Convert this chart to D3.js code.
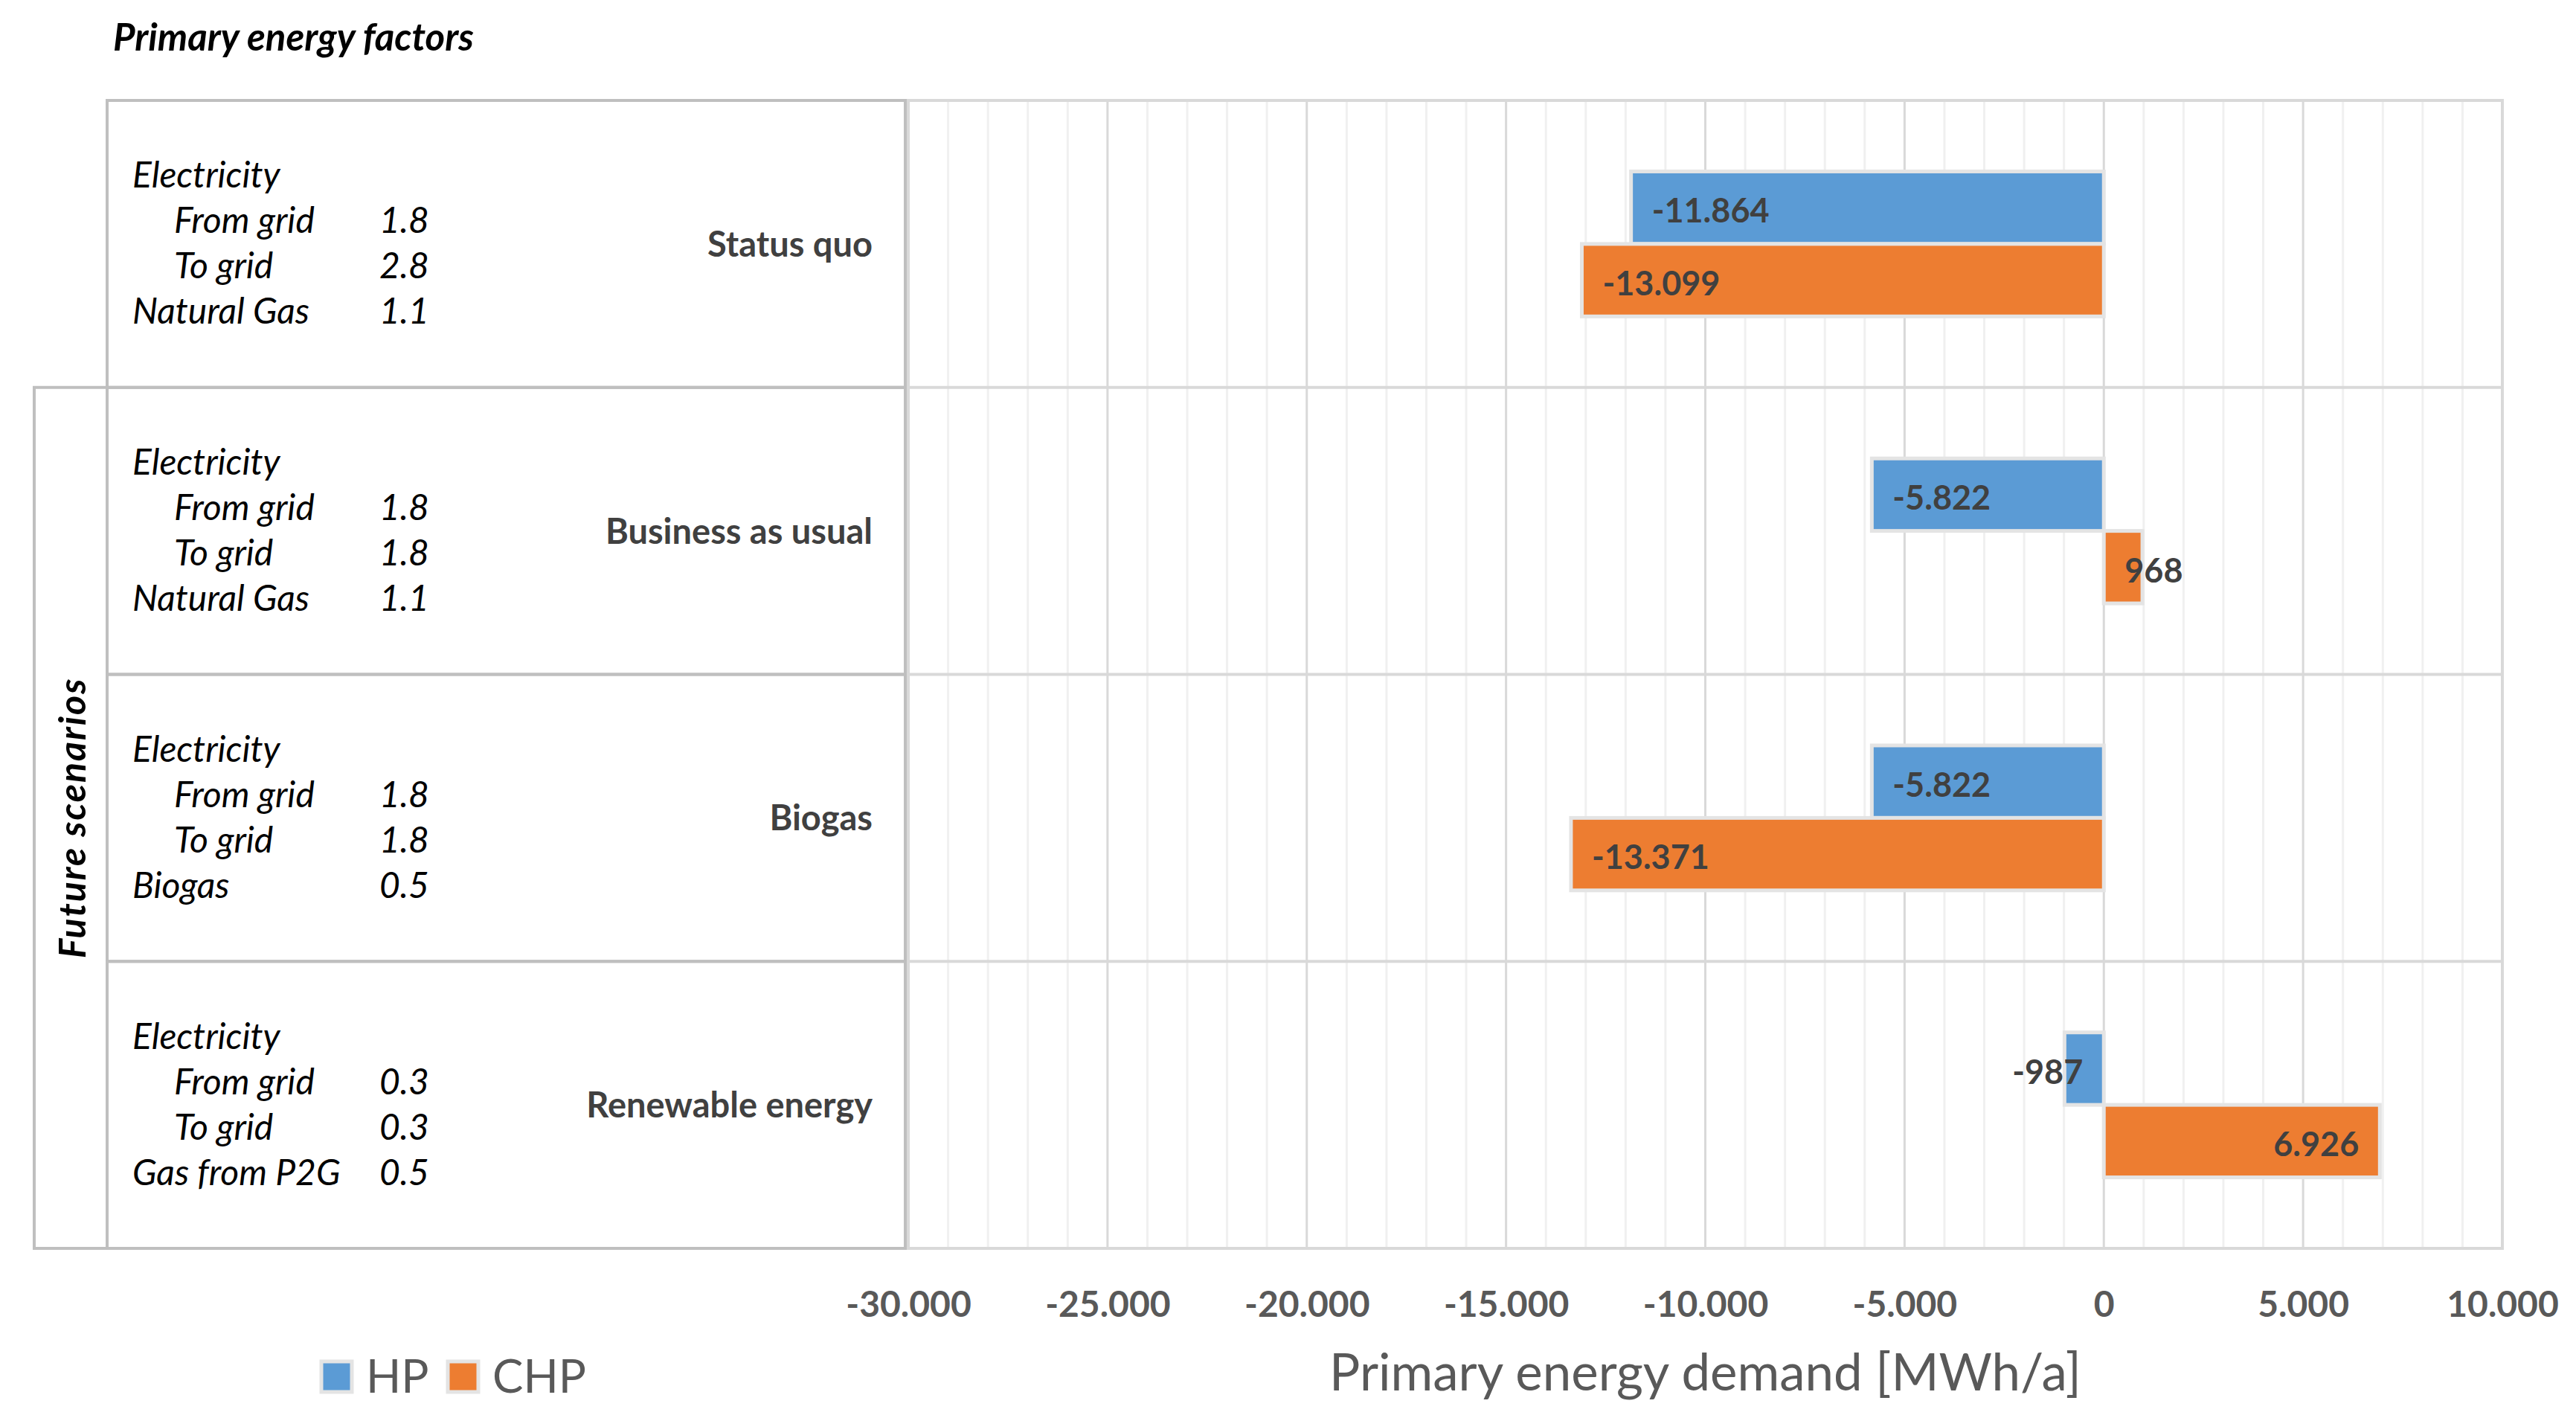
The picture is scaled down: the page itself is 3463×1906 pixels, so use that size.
<!DOCTYPE html>
<html>
<head>
<meta charset="utf-8">
<script src="https://cdnjs.cloudflare.com/ajax/libs/d3/7.8.5/d3.min.js"></script>
<style>
  body { margin: 0; background: #fff; }
  svg { font-family: Lato, "Open Sans", sans-serif; }
</style>
</head>
<body>
<svg id="chart" width="3463" height="1906"></svg>
<script>
// scenarios, top to bottom
var scenarios = ["Status quo", "Business as usual", "Biogas", "Renewable energy"];
var series = ["HP", "CHP"];
var hpValues = [-11864, -5822, -5822, -987];
var chpValues = [-13099, 968, -13371, 6926];
var xTicks = [-30000, -25000, -20000, -15000, -10000, -5000, 0, 5000, 10000];

// primary energy factors shown in the left table
var factorNames = [
  ["Electricity", "From grid", "To grid", "Natural Gas"],
  ["Electricity", "From grid", "To grid", "Natural Gas"],
  ["Electricity", "From grid", "To grid", "Biogas"],
  ["Electricity", "From grid", "To grid", "Gas from P2G"]
];
var factorValues = [
  ["", "1.8", "2.8", "1.1"],
  ["", "1.8", "1.8", "1.1"],
  ["", "1.8", "1.8", "0.5"],
  ["", "0.3", "0.3", "0.5"]
];
var factorIndent = [0, 1, 1, 0];

var colors = {HP: "#5b9bd5", CHP: "#ed7d31"};

var locale = d3.formatLocale({decimal: ",", thousands: ".", grouping: [3], currency: ["", ""], minus: "-"});
var fmt = locale.format(",.0f");

var svg = d3.select("#chart");
var plot = {left: 1221, right: 3364, top: 135, bottom: 1678};

var x = d3.scaleLinear().domain([-30000, 10000]).range([plot.left, plot.right]);
var y = d3.scaleBand().domain(scenarios).range([plot.top, plot.bottom]).paddingInner(0);
var ySub = d3.scaleBand().domain(series).range([0, y.bandwidth()]).paddingInner(0).paddingOuter(0.98);

// title
svg.append("text")
  .attr("x", 152).attr("y", 68)
  .attr("font-size", 51).attr("font-weight", "bold").attr("font-style", "italic")
  .attr("fill", "#000")
  .text("Primary energy factors");

// grid lines
var g = svg.append("g");
g.selectAll(".minor")
  .data(d3.range(-30000, 10001, 1000).filter(function(v) { return v % 5000 !== 0; }))
  .enter().append("line")
  .attr("x1", x).attr("x2", x)
  .attr("y1", plot.top).attr("y2", plot.bottom)
  .attr("stroke", "#f0f0f0").attr("stroke-width", 3);

g.selectAll(".major")
  .data(xTicks)
  .enter().append("line")
  .attr("x1", x).attr("x2", x)
  .attr("y1", plot.top).attr("y2", plot.bottom)
  .attr("stroke", "#d9d9d9").attr("stroke-width", 3);

g.selectAll(".cat")
  .data(scenarios.slice(1))
  .enter().append("line")
  .attr("x1", plot.left).attr("x2", plot.right)
  .attr("y1", function(d) { return y(d); }).attr("y2", function(d) { return y(d); })
  .attr("stroke", "#d9d9d9").attr("stroke-width", 4);

g.append("rect")
  .attr("x", plot.left).attr("y", plot.top)
  .attr("width", plot.right - plot.left).attr("height", plot.bottom - plot.top)
  .attr("fill", "none").attr("stroke", "#d9d9d9").attr("stroke-width", 4);

// bars
var rows = scenarios.map(function(s, i) {
  return [{scen: s, key: "HP", value: hpValues[i]}, {scen: s, key: "CHP", value: chpValues[i]}];
});

var groups = svg.append("g").selectAll("g")
  .data(rows)
  .enter().append("g")
  .attr("transform", function(d) { return "translate(0," + y(d[0].scen) + ")"; });

groups.selectAll("rect")
  .data(function(d) { return d; })
  .enter().append("rect")
  .attr("x", function(d) { return Math.min(x(0), x(d.value)); })
  .attr("y", function(d) { return ySub(d.key); })
  .attr("width", function(d) { return Math.abs(x(d.value) - x(0)); })
  .attr("height", ySub.bandwidth())
  .attr("fill", function(d) { return colors[d.key]; })
  .attr("stroke", "#e4e4e4").attr("stroke-width", 5);

// data labels, inside end; moved to the base when the bar is too short
var pad = 28;
groups.selectAll("text")
  .data(function(d) { return d; })
  .enter().append("text")
  .attr("y", function(d) { return ySub(d.key) + ySub.bandwidth() / 2 + 4; })
  .attr("dy", "0.36em")
  .attr("font-size", 45).attr("font-weight", "bold")
  .attr("fill", "#404040")
  .text(function(d) { return fmt(d.value); })
  .each(function(d) {
    var w = this.getComputedTextLength();
    var len = Math.abs(x(d.value) - x(0));
    var t = d3.select(this);
    if (d.value < 0) {
      if (w + 2 * pad <= len) t.attr("x", x(d.value) + pad).attr("text-anchor", "start");
      else t.attr("x", x(0) - pad).attr("text-anchor", "end");
    } else {
      if (w + 2 * pad <= len) t.attr("x", x(d.value) - pad).attr("text-anchor", "end");
      else t.attr("x", x(0) + pad).attr("text-anchor", "start");
    }
  });

// x axis
var axis = svg.append("g")
  .attr("transform", "translate(0," + plot.bottom + ")")
  .call(d3.axisBottom(x).tickValues(xTicks).tickSize(0).tickFormat(fmt));
axis.select(".domain").remove();
axis.selectAll("text")
  .attr("y", 75).attr("dy", "0.36em")
  .attr("font-size", 48).attr("font-weight", "bold")
  .attr("font-family", "Lato, sans-serif")
  .attr("fill", "#595959");

svg.append("text")
  .attr("x", (plot.left + plot.right) / 2).attr("y", 1844)
  .attr("dy", "0.36em").attr("text-anchor", "middle")
  .attr("font-size", 69).attr("fill", "#595959")
  .text("Primary energy demand [MWh/a]");

// left table
var table = svg.append("g");
var tabLeft = 144, tabRight = 1217, border = "#bfbfbf";

table.append("rect")
  .attr("x", 46).attr("y", y(scenarios[1]))
  .attr("width", tabLeft - 46).attr("height", plot.bottom - y(scenarios[1]))
  .attr("fill", "none").attr("stroke", border).attr("stroke-width", 4);

table.append("text")
  .attr("transform", "translate(" + 97 + "," + (y(scenarios[1]) + plot.bottom) / 2 + ") rotate(-90)")
  .attr("text-anchor", "middle").attr("dy", "0.36em")
  .attr("font-size", 50).attr("font-weight", "bold").attr("font-style", "italic")
  .attr("letter-spacing", 2)
  .attr("fill", "#000")
  .text("Future scenarios");

var cells = table.selectAll(".cell")
  .data(scenarios)
  .enter().append("g")
  .attr("transform", function(d) { return "translate(0," + y(d) + ")"; });

cells.append("rect")
  .attr("x", tabLeft).attr("y", 0)
  .attr("width", tabRight - tabLeft).attr("height", y.bandwidth())
  .attr("fill", "none").attr("stroke", border).attr("stroke-width", 4);

cells.append("text")
  .attr("x", 1173).attr("y", y.bandwidth() / 2).attr("dy", "0.36em")
  .attr("text-anchor", "end")
  .attr("font-size", 47).attr("font-weight", "bold").attr("fill", "#404040")
  .text(function(d) { return d; });

cells.each(function(d, i) {
  var c = d3.select(this);
  var lineH = 61;
  var base0 = y.bandwidth() / 2 - 1.5 * lineH + 16;
  factorNames[i].forEach(function(name, j) {
    c.append("text")
      .attr("x", factorIndent[j] ? 234 : 178)
      .attr("y", base0 + j * lineH)
      .attr("font-size", 48).attr("font-style", "italic").attr("fill", "#000")
      .text(name);
    if (factorValues[i][j]) {
      c.append("text")
        .attr("x", 510)
        .attr("y", base0 + j * lineH)
        .attr("font-size", 48).attr("font-style", "italic").attr("fill", "#000")
        .text(factorValues[i][j]);
    }
  });
});

// legend
var legend = svg.append("g").selectAll("g")
  .data(series)
  .enter().append("g")
  .attr("transform", function(d, i) { return "translate(" + [432, 602][i] + ",1850)"; });

legend.append("rect")
  .attr("x", 0).attr("y", -20)
  .attr("width", 41).attr("height", 41)
  .attr("fill", function(d) { return colors[d]; })
  .attr("stroke", "#e4e4e4").attr("stroke-width", 5);

legend.append("text")
  .attr("x", 60).attr("y", 0).attr("dy", "0.36em")
  .attr("font-size", 62).attr("fill", "#595959")
  .text(function(d) { return d; });
</script>
</body>
</html>
